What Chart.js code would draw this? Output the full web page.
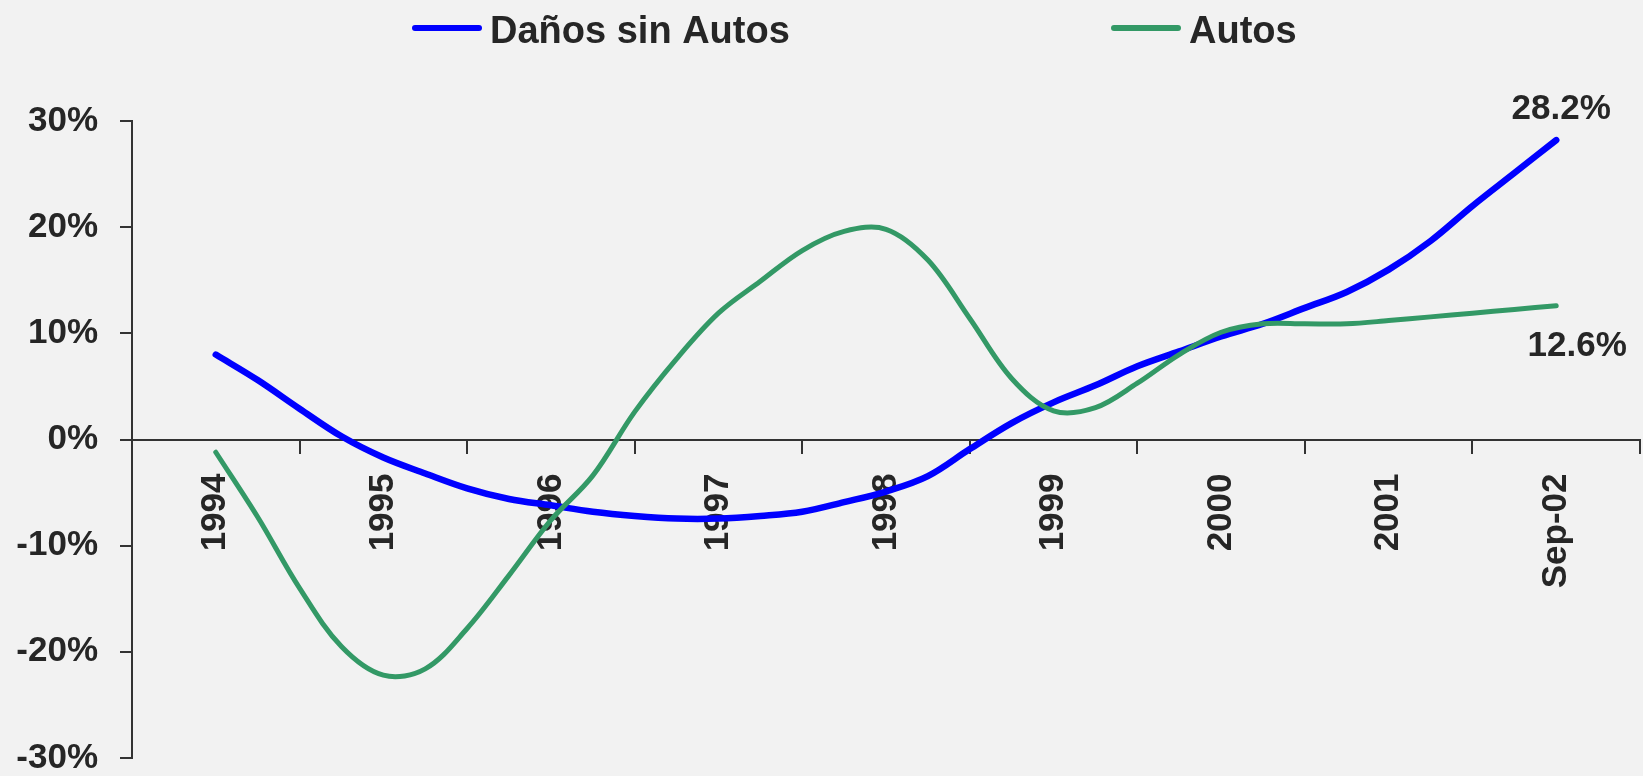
<!DOCTYPE html>
<html>
<head>
<meta charset="utf-8">
<script src="https://cdn.jsdelivr.net/npm/chart.js@4.4.1/dist/chart.umd.min.js"></script>
<style>
html,body{margin:0;padding:0;background:#f2f2f2;overflow:hidden}
#wrap{width:1643px;height:776px;position:relative}
canvas{display:block}
</style>
</head>
<body>
<div id="wrap"><canvas id="c" width="1643" height="776"></canvas></div>
<script>
// ---- data (quarterly readings, 4 per year interval) ----
const yearLabels = ['1994','1995','1996','1997','1998','1999','2000','2001','Sep-02'];
const pointsPerYear = 4;
const seriesNames = ['Daños sin Autos', 'Autos'];
const danosSinAutos = [8.0, 5.6, 2.9, 0.3, -1.7, -3.2, -4.6, -5.6, -6.2, -6.8, -7.2, -7.45, -7.45, -7.2, -6.8, -5.9, -4.9, -3.45, -0.9, 1.55, 3.5, 5.1, 6.9, 8.3, 9.7, 10.9, 12.4, 13.9, 16.0, 18.7, 22.0, 25.1, 28.2];
const autos = [-1.2, -7.3, -14.0, -19.5, -22.2, -21.6, -17.8, -12.8, -7.6, -3.4, 2.6, 7.6, 11.9, 14.9, 17.8, 19.6, 19.8, 16.9, 11.4, 5.75, 2.7, 3.0, 5.3, 8.0, 10.1, 10.9, 10.9, 10.9, 11.2, 11.55, 11.9, 12.25, 12.6];
const yTicks = [-30, -20, -10, 0, 10, 20, 30];

const FONT = "'Liberation Sans', Arial, Helvetica, sans-serif";
const TEXT = '#262626';
const AXIS = '#333333';

function toXY(arr) { return arr.map((v, i) => ({ x: i / pointsPerYear, y: v })); }

const lineLegend = {
  id: 'lineLegend',
  afterDraw(chart, args, opts) {
    const ctx = chart.ctx;
    ctx.save();
    chart.data.datasets.forEach((ds, i) => {
      const it = opts.items[i];
      ctx.strokeStyle = ds.borderColor;
      ctx.lineWidth = opts.lineWidth;
      ctx.lineCap = 'round';
      ctx.beginPath();
      ctx.moveTo(it.x + opts.lineWidth / 2, opts.y);
      ctx.lineTo(it.x + opts.lineLength - opts.lineWidth / 2, opts.y);
      ctx.stroke();
      ctx.fillStyle = TEXT;
      ctx.font = 'bold ' + opts.fontSize + 'px ' + FONT;
      ctx.textAlign = 'left';
      ctx.textBaseline = 'alphabetic';
      ctx.fillText(ds.label, it.x + opts.lineLength + opts.gap, opts.baseline);
    });
    ctx.restore();
  }
};

const endLabels = {
  id: 'endLabels',
  afterDatasetsDraw(chart, args, opts) {
    const ctx = chart.ctx;
    ctx.save();
    ctx.fillStyle = TEXT;
    ctx.font = 'bold ' + opts.fontSize + 'px ' + FONT;
    ctx.textAlign = 'center';
    ctx.textBaseline = 'alphabetic';
    chart.data.datasets.forEach((ds, i) => {
      const meta = chart.getDatasetMeta(i);
      const pt = meta.data[meta.data.length - 1];
      const v = ds.data[ds.data.length - 1].y;
      const o = opts.offsets[i];
      ctx.fillText(v.toFixed(1) + '%', pt.x + o.dx, pt.y + o.dy);
    });
    ctx.restore();
  }
};

const tickFont = { family: FONT, size: 35, weight: 'bold' };

new Chart(document.getElementById('c'), {
  type: 'line',
  data: {
    datasets: [
      {
        label: seriesNames[0], data: toXY(danosSinAutos),
        borderColor: '#0000ff', backgroundColor: '#0000ff', borderWidth: 6.5,
        pointRadius: 0, tension: 0.35, borderCapStyle: 'round', borderJoinStyle: 'round',
        fill: false, order: 1, xAxisID: 'x', yAxisID: 'y'
      },
      {
        label: seriesNames[1], data: toXY(autos),
        borderColor: '#339966', backgroundColor: '#339966', borderWidth: 5,
        pointRadius: 0, tension: 0.35, borderCapStyle: 'round', borderJoinStyle: 'round',
        fill: false, order: 0, xAxisID: 'x', yAxisID: 'y'
      }
    ]
  },
  options: {
    responsive: false,
    animation: false,
    devicePixelRatio: 1,
    layout: { padding: { top: 121, bottom: 18, left: 0, right: 3 } },
    plugins: {
      legend: { display: false },
      tooltip: { enabled: false },
      lineLegend: {
        items: [{ x: 412 }, { x: 1111 }],
        lineLength: 70, lineWidth: 6, gap: 8, y: 28, baseline: 43, fontSize: 38
      },
      endLabels: {
        fontSize: 35,
        offsets: [{ dx: 5, dy: -21 }, { dx: 21, dy: 50 }]
      }
    },
    scales: {
      x: {
        type: 'linear', min: -0.5, max: yearLabels.length - 0.5,
        display: false,
        ticks: { display: false },
        grid: { display: false },
        afterFit(s) { s.height = 0; s.paddingLeft = 0; s.paddingRight = 0; }
      },
      x2: {
        type: 'category', axis: 'x', labels: yearLabels, offset: true,
        position: { y: 0 },
        grid: { offset: true, drawOnChartArea: false, drawTicks: true, tickLength: 13, color: AXIS, lineWidth: 2 },
        border: { display: true, color: AXIS, width: 2 },
        ticks: { autoSkip: false, maxRotation: 90, minRotation: 90, padding: 21, font: tickFont, color: TEXT },
        afterFit(s) { s.paddingLeft = 0; s.paddingRight = 0; }
      },
      y: {
        type: 'linear', min: -30, max: 30, position: 'left',
        afterBuildTicks(s) { s.ticks = yTicks.map(v => ({ value: v })); },
        ticks: { callback: v => v + '%', font: tickFont, color: TEXT, padding: 22 },
        grid: { drawOnChartArea: false, drawTicks: true, tickLength: 12, color: AXIS, lineWidth: 2 },
        border: { display: true, color: AXIS, width: 2 },
        afterFit(s) { s.width = 132; s.paddingTop = 0; s.paddingBottom = 0; }
      }
    }
  },
  plugins: [lineLegend, endLabels]
});
</script>
</body>
</html>
